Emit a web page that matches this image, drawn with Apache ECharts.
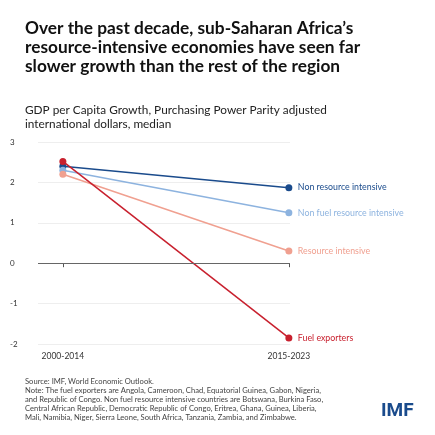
<!DOCTYPE html><html><head><meta charset="utf-8"><script src="https://cdn.jsdelivr.net/npm/echarts@6/dist/echarts.min.js"></script>
<style>body{margin:0}#c{width:435px;height:435px}</style></head><body><div id="c"></div><script>
const categories=['2000-2014','2015-2023'];
const seriesNames=['Non resource intensive','Non fuel resource intensive','Resource intensive','Fuel exporters'];
const nonResource=[2.4,1.87];
const nonFuel=[2.3,1.25];
const resource=[2.2,0.3];
const fuel=[2.52,-1.85];
const colors=['#1a4b8c','#8db3df','#f0a090','#c8202e'];
const vals=[nonResource,nonFuel,resource,fuel];
const F='Lato, "Noto Sans", sans-serif';
const chart=echarts.init(document.getElementById('c'));
chart.setOption({
 animation:false,
 title:[{text:"Over the past decade, sub-Saharan Africa’s\nresource-intensive economies have seen far\nslower growth than the rest of the region",left:20,top:14,textStyle:{fontFamily:F,fontSize:17.3,fontWeight:'bold',color:'#111',lineHeight:19}},
 {text:'GDP per Capita Growth, Purchasing Power Parity adjusted\ninternational dollars, median',left:20,top:98,textStyle:{fontFamily:F,fontSize:11.8,fontWeight:'normal',color:'#222',lineHeight:14}},
 {text:'Source: IMF, World Economic Outlook.\nNote: The fuel exporters are Angola, Cameroon, Chad, Equatorial Guinea, Gabon, Nigeria,\nand Republic of Congo. Non fuel resource intensive countries are Botswana, Burkina Faso,\nCentral African Republic, Democratic Republic of Congo, Eritrea, Ghana, Guinea, Liberia,\nMali, Namibia, Niger, Sierra Leone, South Africa, Tanzania, Zambia, and Zimbabwe.',left:20,top:372,textStyle:{fontFamily:F,fontSize:7.6,fontWeight:'normal',color:'#444',lineHeight:9}},
 {text:'IMF',left:376,top:397,textStyle:{fontFamily:'Roboto, sans-serif',fontSize:19,fontWeight:'bold',color:'#1a4b8c'}}],
 grid:{left:38,right:145,top:142,bottom:91},
 xAxis:{type:'value',min:-0.11,max:1.005,splitLine:{show:false},axisLine:{show:false},
  axisTick:{show:true,customValues:[0,1],lineStyle:{color:'#555'},length:4},
  axisLabel:{customValues:[0,1],formatter:v=>categories[Math.round(v)],fontFamily:F,fontSize:8.5,color:'#333',margin:8}},
 yAxis:{type:'value',min:-2,max:3,interval:1,axisLine:{show:false},axisTick:{show:false},
  axisLabel:{fontFamily:F,fontSize:8,color:'#333',margin:28,align:'left'},
  splitLine:{lineStyle:{color:'#eee'}}},
 series:vals.map((d,i)=>({name:seriesNames[i],type:'line',data:d.map((v,j)=>[j,v]),
  symbol:'circle',symbolSize:7,itemStyle:{color:colors[i]},lineStyle:{color:colors[i],width:1.5},
  endLabel:{show:true,formatter:seriesNames[i],color:colors[i],fontFamily:F,fontSize:8.8,distance:9},
  markLine:i===0?{silent:true,symbol:'none',label:{show:false},lineStyle:{color:'#666',type:'solid',width:1},data:[{yAxis:0}]}:undefined,
  z:i===3?3:2}))
});
</script></body></html>
